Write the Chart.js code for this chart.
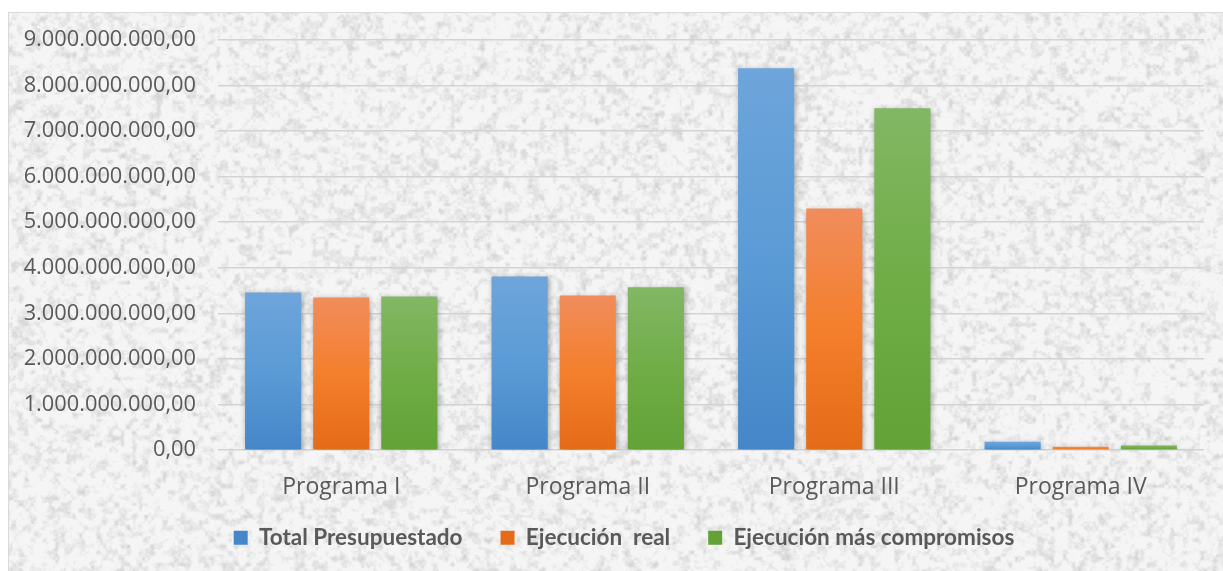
<!DOCTYPE html>
<html>
<head>
<meta charset="utf-8">
<script src="https://cdn.jsdelivr.net/npm/chart.js@4.4.1/dist/chart.umd.min.js"></script>
<style>
  html, body { margin: 0; padding: 0; background: #ffffff; }
  #wrap { width: 1223px; height: 571px; position: relative; }
</style>
</head>
<body>
<div id="wrap"><canvas id="c" width="1223" height="571"></canvas></div>
<script>
// ---- data ----
const categories = ['Programa I', 'Programa II', 'Programa III', 'Programa IV'];
const seriesNames = ['Total Presupuestado', 'Ejecución  real', 'Ejecución más compromisos'];
const totalPresupuestado = [3460000000, 3810000000, 8380000000, 180000000];
const ejecucionReal = [3350000000, 3390000000, 5300000000, 73000000];
const ejecucionMasCompromisos = [3370000000, 3570000000, 7500000000, 100000000];
const yTicks = [0, 1000000000, 2000000000, 3000000000, 4000000000, 5000000000, 6000000000, 7000000000, 8000000000, 9000000000];

// ---- styles ----
const gradStops = [
  ['#6ea5db', '#5b9bd5', '#4486c8'],
  ['#f08d5c', '#f47f2c', '#e46b17'],
  ['#82b764', '#70ad47', '#62a236']
];

function fmtEs(v) {
  const neg = v < 0; v = Math.abs(Math.round(v * 100) / 100);
  const ip = Math.floor(v).toString();
  const dec = Math.round((v - Math.floor(v)) * 100).toString().padStart(2, '0');
  let out = '';
  for (let i = 0; i < ip.length; i++) {
    if (i > 0 && (ip.length - i) % 3 === 0) out += '.';
    out += ip[i];
  }
  return (neg ? '-' : '') + out + ',' + dec;
}

// deterministic texture (style only)
function hash(x, y, s) {
  let n = Math.imul(x, 374761393) + Math.imul(y, 668265263) + Math.imul(s, 1442695041);
  n = Math.imul(n ^ (n >>> 13), 1274126177);
  n = n ^ (n >>> 16);
  return (n >>> 0) / 4294967295;
}
function vnoise(x, y, cell, s) {
  const gx = Math.floor(x / cell), gy = Math.floor(y / cell);
  const fx = x / cell - gx, fy = y / cell - gy;
  const sx = fx * fx * (3 - 2 * fx), sy = fy * fy * (3 - 2 * fy);
  const a = hash(gx, gy, s), b = hash(gx + 1, gy, s), c = hash(gx, gy + 1, s), d = hash(gx + 1, gy + 1, s);
  return (a + (b - a) * sx) + ((c + (d - c) * sx) - (a + (b - a) * sx)) * sy;
}
function makeTexture(w, h) {
  const cv = document.createElement('canvas');
  cv.width = w; cv.height = h;
  const cx = cv.getContext('2d');
  const img = cx.createImageData(w, h);
  for (let y = 0; y < h; y++) {
    for (let x = 0; x < w; x++) {
      const n = 0.5 * vnoise(x, y, 6, 1) + 0.32 * vnoise(x, y, 3, 2) + 0.18 * vnoise(x, y, 1.4, 3);
      let g = 245 - Math.max(0, n - 0.44) * 72;
      g = Math.max(206, Math.min(250, g));
      const i = (y * w + x) * 4;
      img.data[i] = g; img.data[i + 1] = g; img.data[i + 2] = g; img.data[i + 3] = 255;
    }
  }
  cx.putImageData(img, 0, 0);
  return cv;
}
const texture = makeTexture(1215, 559);

const bgPlugin = {
  id: 'bg',
  beforeDraw(chart) {
    const ctx = chart.ctx;
    ctx.save();
    ctx.fillStyle = '#ffffff';
    ctx.fillRect(0, 0, chart.width, chart.height);
    ctx.drawImage(texture, 8, 12);
    ctx.strokeStyle = '#d9d9d9';
    ctx.lineWidth = 1;
    ctx.strokeRect(8.5, 12.5, 1220, 565);
    ctx.restore();
  }
};

// position the legend row like the reference
const legendPlace = {
  id: 'legendPlace',
  afterLayout(chart) {
    const lg = chart.legend;
    if (!lg) return;
    lg.left = 44;
    lg.top = 488.5;
  }
};

const shadowPlugin = {
  id: 'barShadow',
  beforeDatasetsDraw(chart) {
    const ctx = chart.ctx;
    ctx.save();
    ctx.shadowColor = 'rgba(0,0,0,0.35)';
    ctx.shadowBlur = 6;
    ctx.shadowOffsetX = 1;
    ctx.shadowOffsetY = 2;
  },
  afterDatasetsDraw(chart) {
    chart.ctx.restore();
  }
};

function barGradient(si) {
  return function (context) {
    const chart = context.chart;
    const area = chart.chartArea;
    if (!area || context.type !== 'data') return gradStops[si][1];
    const ys = chart.scales.y;
    const v = context.raw;
    const top = ys.getPixelForValue(v);
    const base = ys.getPixelForValue(0);
    if (!isFinite(top) || base - top < 1) return gradStops[si][1];
    const g = chart.ctx.createLinearGradient(0, top, 0, base);
    g.addColorStop(0, gradStops[si][0]);
    g.addColorStop(0.5, gradStops[si][1]);
    g.addColorStop(1, gradStops[si][2]);
    return g;
  };
}

const seriesData = [totalPresupuestado, ejecucionReal, ejecucionMasCompromisos];

new Chart(document.getElementById('c'), {
  type: 'bar',
  data: {
    labels: categories,
    datasets: seriesData.map((d, i) => ({
      label: seriesNames[i],
      data: d,
      backgroundColor: barGradient(i),
      borderWidth: 0,
      categoryPercentage: 0.829,
      barPercentage: 0.824
    }))
  },
  options: {
    responsive: false,
    animation: false,
    layout: { padding: { left: 0, right: 19, top: 40, bottom: 11 } },
    scales: {
      y: {
        min: 0,
        max: 9000000000,
        afterBuildTicks(scale) { scale.ticks = yTicks.map(v => ({ value: v })); },
        afterFit(scale) { scale.width = 218; },
        border: { display: false },
        grid: { color: '#d3d3d3', lineWidth: 1.5, drawTicks: false },
        ticks: {
          padding: 22,
          color: '#595959',
          font: { family: 'Open Sans', size: 21.8 },
          callback: v => fmtEs(v)
        }
      },
      x: {
        border: { display: false },
        grid: { display: false },
        afterFit(scale) { scale.height = 60; },
        ticks: {
          padding: 16,
          color: '#595959',
          font: { family: 'Open Sans', size: 23 }
        }
      }
    },
    plugins: {
      legend: {
        position: 'bottom',
        maxHeight: 50,
        labels: {
          boxWidth: 14,
          boxHeight: 14,
          padding: 38,
          color: '#595959',
          font: { family: 'Lato', size: 22.5, weight: 'bold' }
        }
      },
      tooltip: { enabled: false }
    }
  },
  plugins: [bgPlugin, legendPlace, shadowPlugin]
});
</script>
</body>
</html>
